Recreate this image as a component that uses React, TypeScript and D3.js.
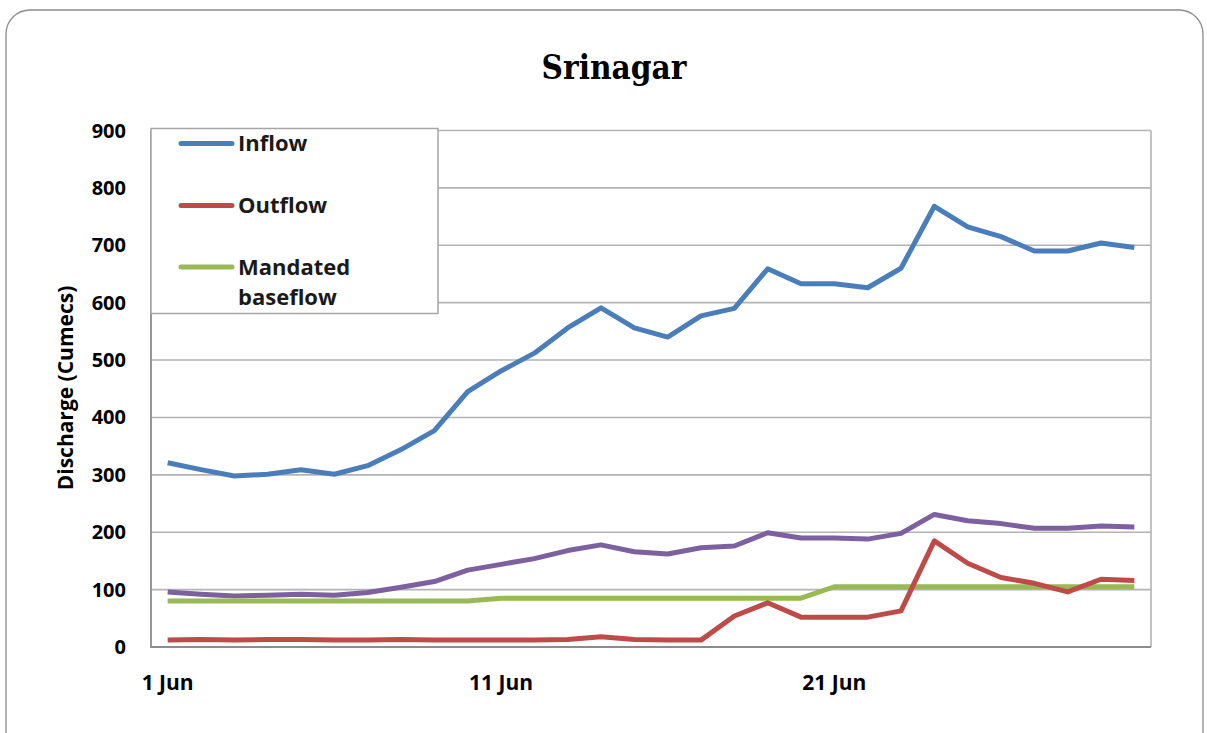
import React from "react";
import * as d3 from "d3";

const days = d3.range(1, 31);
const tickDays = [1, 11, 21];
const tickLabels = ["1 Jun", "11 Jun", "21 Jun"];
const yTicks = [0, 100, 200, 300, 400, 500, 600, 700, 800, 900];

const inflow = [321, 309, 298, 301, 309, 301, 316, 344, 377, 445, 481, 512, 556, 591, 556, 540, 577, 590, 659, 633, 633, 626, 660, 768, 732, 715, 690, 690, 704, 696];
const outflow = [12, 13, 12, 13, 13, 12, 12, 13, 12, 12, 12, 12, 13, 18, 13, 12, 12, 54, 77, 52, 52, 52, 63, 185, 146, 121, 111, 96, 118, 116];
const baseflow = [80, 80, 80, 80, 80, 80, 80, 80, 80, 80, 85, 85, 85, 85, 85, 85, 85, 85, 85, 85, 105, 105, 105, 105, 105, 105, 105, 105, 105, 105];
const other = [96, 92, 89, 90, 92, 90, 95, 104, 114, 134, 144, 154, 168, 178, 166, 162, 173, 176, 199, 190, 190, 188, 198, 231, 220, 215, 207, 207, 211, 209];

const seriesList = [
  { name: "other", values: other, color: "#7D60A0" },
  { name: "Mandated baseflow", values: baseflow, color: "#98B954" },
  { name: "Outflow", values: outflow, color: "#BE4B48" },
  { name: "Inflow", values: inflow, color: "#4A7EBB" },
];

export default function App() {
  const W = 1207, H = 733;
  const left = 151, right = 1151, top = 130.5, bottom = 647;
  const x = d3.scalePoint<number>().domain(days).range([left, right]).padding(0.5);
  const y = d3.scaleLinear().domain([0, 900]).range([bottom, top]);
  const line = (vals: number[]) =>
    d3.line<number>().x((_, i) => x(days[i]) as number).y((v) => y(v))(vals) || "";
  const font = "'Open Sans', 'Liberation Sans', sans-serif";
  const legend = [
    { label: ["Inflow"], color: "#4A7EBB", y: 143.5, ty: 151 },
    { label: ["Outflow"], color: "#BE4B48", y: 205.5, ty: 213 },
    { label: ["Mandated", "baseflow"], color: "#98B954", y: 267, ty: 274.5 },
  ];
  return (
    <svg width={W} height={H} style={{ position: "absolute", left: 0, top: 0, background: "#fff" }}>
      <rect x={6} y={10} width={1197} height={760} rx={24} ry={24} fill="#fff" stroke="#8c8c8c" strokeWidth={1.3} />
      <text x={614} y={79} textAnchor="middle" fontFamily="'DejaVu Serif Condensed', 'DejaVu Serif', serif" fontWeight="bold" fontSize={33} fill="#000" style={{ fontStretch: "condensed" }}>Srinagar</text>
      {yTicks.map((t) => (
        <line key={t} x1={left} x2={right} y1={y(t)} y2={y(t)} stroke="#b3b3b3" strokeWidth={1.6} />
      ))}
      <line x1={right} x2={right} y1={top} y2={bottom} stroke="#b3b3b3" strokeWidth={1.6} />
      <line x1={left} x2={left} y1={top} y2={bottom + 1} stroke="#8c8c8c" strokeWidth={1.8} />
      <line x1={left} x2={right} y1={bottom} y2={bottom} stroke="#8c8c8c" strokeWidth={1.8} />
      {yTicks.map((t) => (
        <text key={t} x={126} y={y(t) + 7} textAnchor="end" fontFamily={font} fontWeight="bold" fontSize={20}>{t}</text>
      ))}
      {tickDays.map((d, i) => (
        <text key={d} x={x(d) as number} y={690} textAnchor="middle" fontFamily={font} fontWeight="bold" fontSize={21}>{tickLabels[i]}</text>
      ))}
      <text transform="translate(73,388) rotate(-90)" textAnchor="middle" fontFamily={font} fontWeight="bold" fontSize={21}>Discharge (Cumecs)</text>
      {seriesList.map((s) => (
        <path key={s.name} d={line(s.values)} fill="none" stroke={s.color} strokeWidth={5} strokeLinejoin="round" />
      ))}
      <rect x={151} y={128.5} width={287} height={185} fill="#fff" stroke="#a6a6a6" strokeWidth={1.5} />
      {legend.map((l) => (
        <g key={l.color}>
          <line x1={181} x2={232} y1={l.y} y2={l.y} stroke={l.color} strokeWidth={5} strokeLinecap="round" />
          {l.label.map((t, j) => (
            <text key={t} x={238} y={l.ty + j * 30.5} fontFamily={font} fontWeight="bold" fontSize={22} fill="#1a1a1a">{t}</text>
          ))}
        </g>
      ))}
    </svg>
  );
}
